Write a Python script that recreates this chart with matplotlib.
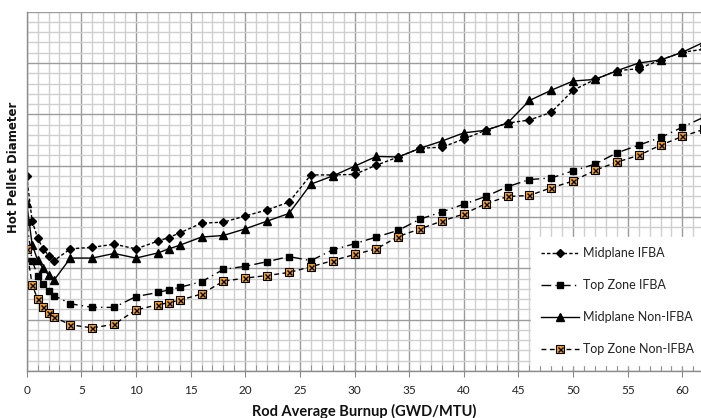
import matplotlib
matplotlib.use("Agg")
import matplotlib.pyplot as plt
from matplotlib.ticker import MultipleLocator, NullFormatter

# ---------------- data ----------------
burnup = [0, 0.5, 1, 1.5, 2, 2.5, 4, 6, 8, 10, 12, 13, 14, 16, 18, 20, 22, 24, 26, 28,
          30, 32, 34, 36, 38, 40, 42, 44, 46, 48, 50, 52, 54, 56, 58, 60, 62]

midplane_ifba = [3.79, 2.92, 2.59, 2.38, 2.25, 2.15, 2.38, 2.41, 2.47, 2.38, 2.53, 2.60, 2.69,
                 2.88, 2.90, 3.02, 3.14, 3.29, 3.82, 3.82, 3.83, 4.01, 4.17, 4.34, 4.36, 4.52,
                 4.69, 4.83, 4.89, 5.04, 5.47, 5.68, 5.85, 5.89, 6.06, 6.21, 6.27]

top_zone_ifba = [2.91, 2.15, 1.86, 1.69, 1.56, 1.47, 1.31, 1.24, 1.24, 1.45, 1.53, 1.58, 1.63,
                 1.74, 1.98, 2.04, 2.13, 2.23, 2.15, 2.36, 2.48, 2.61, 2.74, 2.96, 3.10, 3.25,
                 3.40, 3.59, 3.73, 3.76, 3.90, 4.03, 4.25, 4.40, 4.55, 4.75, 4.95]

midplane_non_ifba = [3.27, 2.46, 2.16, 2.00, 1.87, 1.77, 2.20, 2.20, 2.29, 2.20, 2.30, 2.38, 2.45,
                     2.61, 2.64, 2.77, 2.92, 3.07, 3.64, 3.80, 3.99, 4.18, 4.17, 4.34, 4.48, 4.64,
                     4.69, 4.83, 5.27, 5.47, 5.65, 5.68, 5.85, 6.00, 6.06, 6.21, 6.41]

top_zone_non_ifba = [2.37, 1.68, 1.40, 1.25, 1.13, 1.05, 0.90, 0.84, 0.91, 1.19, 1.29, 1.33, 1.38,
                     1.50, 1.75, 1.81, 1.86, 1.92, 2.03, 2.15, 2.27, 2.38, 2.62, 2.77, 2.92, 3.06,
                     3.26, 3.40, 3.42, 3.57, 3.70, 3.91, 4.07, 4.20, 4.40, 4.57, 4.71]

series_labels = ["Midplane IFBA", "Top Zone IFBA", "Midplane Non-IFBA", "Top Zone Non-IFBA"]
x_ticks = list(range(0, 61, 5))
x_label = "Rod Average Burnup (GWD/MTU)"
y_label = "Hot Pellet Diameter"

# ---------------- figure ----------------
W, H = 701, 418
fig = plt.figure(figsize=(W / 100, H / 100), dpi=100)
ax = fig.add_axes([26.7 / W, 1 - 371 / H, (701 - 26.7) / W, (371 - 11.7) / H])

ax.set_xlim(0, 61.7)
ax.set_ylim(0, 7)
ax.xaxis.set_major_locator(MultipleLocator(5))
ax.xaxis.set_minor_locator(MultipleLocator(1))
ax.yaxis.set_major_locator(MultipleLocator(1))
ax.yaxis.set_minor_locator(MultipleLocator(0.2))
ax.set_xticks(x_ticks)
ax.set_xticklabels([str(t) for t in x_ticks], fontname="Lato", fontsize=8.5, color="#222222")
ax.yaxis.set_major_formatter(NullFormatter())
ax.tick_params(axis="y", which="both", length=0)
ax.tick_params(axis="x", which="major", direction="out", length=4, color="#888888", pad=6)
ax.tick_params(axis="x", which="minor", direction="in", length=4, color="#888888")

ax.grid(which="minor", color="#cfcfcf", linewidth=1.0)
ax.grid(which="major", color="#9c9c9c", linewidth=1.0)
ax.set_axisbelow(True)
for s in ["top", "right"]:
    ax.spines[s].set_visible(False)
for s in ["left", "bottom"]:
    ax.spines[s].set_color("#8c8c8c")
    ax.spines[s].set_linewidth(1.0)

lw = 1.0
l1, = ax.plot(burnup, midplane_ifba, color="black", lw=lw, linestyle=(0, (2.4, 1.6)),
              marker="D", markersize=3.6, markerfacecolor="black", markeredgecolor="black")
l2, = ax.plot(burnup, top_zone_ifba, color="black", lw=lw, linestyle=(0, (7, 3, 1, 3)),
              marker="s", markersize=5, markerfacecolor="black", markeredgecolor="black")
l3, = ax.plot(burnup, midplane_non_ifba, color="black", lw=lw, linestyle="-",
              marker="^", markersize=5.5, markerfacecolor="black", markeredgecolor="black")
l4, = ax.plot(burnup, top_zone_non_ifba, color="black", lw=lw, linestyle=(0, (3.5, 2.5)),
              marker="s", markersize=5.5, markerfacecolor="#F2A23A", markeredgecolor="black",
              markeredgewidth=0.8)
l4x, = ax.plot(burnup, top_zone_non_ifba, linestyle="none", marker="x", markersize=3.6,
               markeredgecolor="black", markeredgewidth=1.0)

leg = fig.legend([l1, l2, l3, (l4, l4x)], series_labels,
                 loc="upper left", bbox_to_anchor=(531 / W, 1 - 367 / H, 170 / W, 130 / H),
                 mode="expand", frameon=True, fancybox=False, numpoints=1,
                 handlelength=3.0, handletextpad=0.35, labelspacing=1.6,
                 borderpad=0.8, borderaxespad=0,
                 prop={"family": "Lato", "size": 9})
leg.get_frame().set_facecolor("white")
leg.get_frame().set_edgecolor("white")
leg.get_frame().set_alpha(1.0)
for t in leg.get_texts():
    t.set_color("#222222")

fig.text(364 / W, 1 - 411 / H, x_label, ha="center", va="center",
         fontname="Lato", fontweight="bold", fontsize=10.5, color="#111111")
fig.text(14 / W, 1 - 167 / H, y_label, ha="center", va="center", rotation=90,
         fontname="DejaVu Sans", fontweight="bold", fontsize=8.5, color="#111111")

fig.savefig("out.png", dpi=100)
